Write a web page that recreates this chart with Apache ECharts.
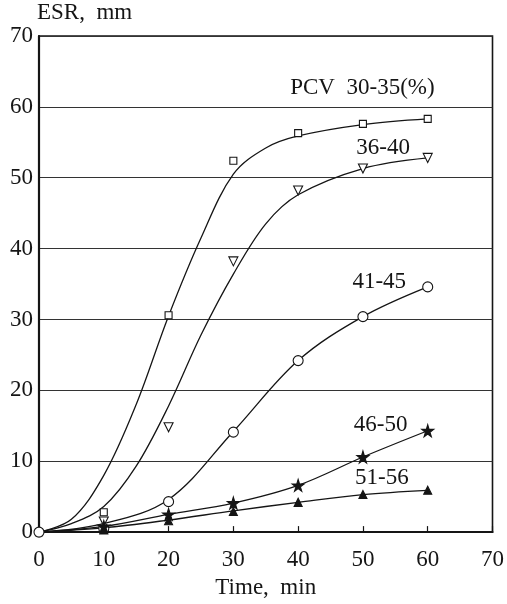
<!DOCTYPE html>
<html>
<head>
<meta charset="UTF-8">
<title>ESR vs time</title>
<script src="https://cdn.jsdelivr.net/npm/echarts@6/dist/echarts.min.js"></script>
<style>
  html, body { margin: 0; padding: 0; background: #fff; }
  #chart { width: 507px; height: 604px; }
</style>
</head>
<body>
<div id="chart"></div>
<script>
// measured points (time, min)
var times = [0, 10, 20, 30, 40, 50, 60];
var esr3035 = [0, 2.8, 30.6, 52.4, 56.3, 57.6, 58.3];
var esr3640 = [null, 1.5, 14.8, 38.2, 48.2, 51.3, 52.8];
var esr4145 = [0, 0.5, 4.3, 14.1, 24.2, 30.4, 34.6];
var esr4650 = [null, 0.8, 2.5, 4.1, 6.6, 10.6, 14.3];
var esr5156 = [null, 0.3, 1.6, 2.9, 4.2, 5.3, 5.9];

// fitted curves
var curveT1 = [0, 5, 10, 15, 20, 25, 30, 35, 40, 50, 60];
var curve3035 = [0, 1.8, 8, 18, 30.5, 41.5, 50.5, 54.2, 55.9, 57.5, 58.3];
var curve3640 = [0, 1.2, 3.6, 9.3, 17.8, 27.8, 36.4, 43.5, 47.6, 51.3, 52.8];
var curveT2 = [0, 10, 20, 30, 40, 50, 60];
var curve4145 = [0, 1.2, 4.6, 14.2, 24.2, 30.4, 34.6];
var curve4650 = [0, 0.8, 2.5, 4.1, 6.6, 10.6, 14.3];
var curve5156 = [0, 0.6, 1.7, 3.0, 4.2, 5.3, 5.9];

// curve labels: [time, esr, text]
var labelPos = [
  [50.0, 62.6, 'PCV  30-35(%)'],
  [53.2, 54.2, '36-40'],
  [52.6, 35.2, '41-45'],
  [52.8, 15.1, '46-50'],
  [53.0, 7.6, '51-56']
];

var font = "'Liberation Serif', 'Times New Roman', serif";
var ink = '#151515';
var star = 'path://M50,0 L61,35 L98,35 L68,57 L79,91 L50,70 L21,91 L32,57 L2,35 L39,35 Z';

function pairs(xs, ys) {
  var out = [];
  for (var i = 0; i < xs.length; i++) {
    if (ys[i] != null) out.push([xs[i], ys[i]]);
  }
  return out;
}

function curve(xs, ys) {
  return {
    type: 'line', data: pairs(xs, ys), smooth: 0.35,
    showSymbol: false, lineStyle: { color: ink, width: 1.3 }, z: 2, silent: true
  };
}

function marks(ys, symbol, size, fill, rotate) {
  return {
    type: 'scatter', data: pairs(times, ys), symbol: symbol, symbolSize: size,
    symbolRotate: rotate || 0,
    itemStyle: { color: fill, borderColor: ink, borderWidth: 1.1, opacity: 1 }, z: 3
  };
}

var chart = echarts.init(document.getElementById('chart'));
chart.setOption({
  animation: false,
  backgroundColor: '#fff',
  grid: { left: 39, right: 10, top: 36, bottom: 68, show: true, borderColor: ink, borderWidth: 1.6 },
  xAxis: {
    type: 'value', min: 0, max: 70, interval: 10,
    name: 'Time,  min', nameLocation: 'middle', nameGap: 42,
    nameTextStyle: { fontFamily: font, fontSize: 23, color: ink },
    axisLine: { lineStyle: { color: ink, width: 2 } },
    axisTick: { inside: true, length: 6, lineStyle: { color: ink, width: 1.2 } },
    axisLabel: { fontFamily: font, fontSize: 23, color: ink, margin: 16 },
    splitLine: { show: false }
  },
  yAxis: {
    type: 'value', min: 0, max: 70, interval: 10,
    name: 'ESR,  mm', nameLocation: 'end', nameGap: 6,
    nameTextStyle: { fontFamily: font, fontSize: 23, color: ink, align: 'left', padding: [0, 0, 0, -2] },
    axisLine: { lineStyle: { color: ink, width: 2.2 } },
    axisTick: { show: false },
    axisLabel: { fontFamily: font, fontSize: 23, color: ink, margin: 6 },
    splitLine: { lineStyle: { color: '#333', width: 1 } }
  },
  series: [
    curve(curveT1, curve3035),
    curve(curveT1, curve3640),
    curve(curveT2, curve4145),
    curve(curveT2, curve4650),
    curve(curveT2, curve5156),
    marks(esr3035, 'rect', 7, '#fff'),
    marks(esr3640, 'triangle', 9, '#fff', 180),
    marks(esr4145, 'circle', 10, '#fff'),
    marks(esr4650, star, 12, ink),
    marks(esr5156, 'triangle', 8, ink),
    {
      type: 'scatter', symbolSize: 1, itemStyle: { color: 'rgba(0,0,0,0)', opacity: 1 }, silent: true, z: 4,
      data: labelPos.map(function (p) { return { value: [p[0], p[1]], name: p[2] }; }),
      label: {
        show: true, position: [0, 0], align: 'center', verticalAlign: 'middle', formatter: '{b}',
        fontFamily: font, fontSize: 23, color: ink, textBorderWidth: 0
      }
    }
  ]
});
</script>
</body>
</html>
